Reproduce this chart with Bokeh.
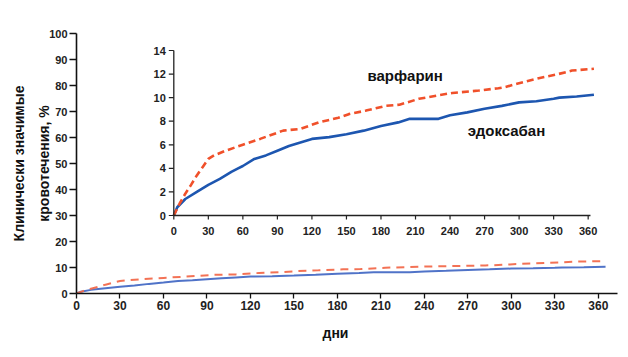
import math
from bokeh.plotting import figure
from bokeh.models import Range1d, FixedTicker, Title
from bokeh.embed import file_html
from bokeh.resources import INLINE
from bokeh.core.properties import value

# ---- data ----
days_warfarin = [0, 5, 10, 15, 20, 25, 30, 35, 45, 60, 75, 95, 110, 126, 143, 152,
                 167, 184, 196, 213, 230, 242, 265, 282, 288, 299, 317, 334, 346, 365]
warfarin = [0, 1.0, 1.85, 2.6, 3.4, 4.1, 4.8, 5.1, 5.5, 6.0, 6.5, 7.2, 7.35, 7.9, 8.3, 8.6,
            8.9, 9.3, 9.4, 9.9, 10.2, 10.4, 10.6, 10.8, 10.9, 11.2, 11.65, 12.0, 12.3, 12.45]
days_edoxaban = [0, 3, 10, 20, 30, 40, 50, 55, 60, 70, 80, 90, 100, 110, 120, 135, 150,
                 165, 180, 195, 205, 230, 240, 255, 270, 285, 300, 315, 330, 335, 350, 365]
edoxaban = [0, 0.7, 1.4, 2.0, 2.6, 3.1, 3.7, 3.96, 4.2, 4.8, 5.1, 5.5, 5.9, 6.2, 6.5, 6.65, 6.9,
            7.2, 7.6, 7.9, 8.2, 8.2, 8.5, 8.75, 9.05, 9.3, 9.6, 9.7, 9.9, 10.0, 10.1, 10.25]

main_x_ticks = [0, 30, 60, 90, 120, 150, 180, 210, 240, 270, 300, 330, 360]
main_y_ticks = [0, 10, 20, 30, 40, 50, 60, 70, 80, 90, 100]
inset_x_ticks = [0, 30, 60, 90, 120, 150, 180, 210, 240, 270, 300, 330, 360]
inset_y_ticks = [0, 2, 4, 6, 8, 10, 12, 14]

y_label = "Клинически значимые\nкровотечения, %"
x_label = "дни"
name_warfarin = "варфарин"
name_edoxaban = "эдоксабан"

FONT = "Liberation Sans"
TICK_COLOR = "#222222"

p = figure(width=628, height=357, x_range=Range1d(0, 376), y_range=Range1d(0, 100),
           output_backend="svg", toolbar_location=None,
           min_border_left=76, min_border_right=7, min_border_top=33, min_border_bottom=64)
p.outline_line_color = None
p.grid.visible = False
p.background_fill_color = "white"

# main axes
xa = p.xaxis[0]
xa.ticker = FixedTicker(ticks=main_x_ticks)
xa.bounds = (0, 373)
ya = p.yaxis[0]
ya.ticker = FixedTicker(ticks=main_y_ticks)
for ax in (xa, ya):
    ax.axis_line_color = "#111111"
    ax.axis_line_width = 1.6
    ax.major_tick_line_color = "#111111"
    ax.major_tick_line_width = 1.3
    ax.major_tick_in = 0
    ax.minor_tick_line_color = None
    ax.major_label_text_font = FONT
    ax.major_label_text_font_style = "bold"
    ax.major_label_text_color = TICK_COLOR
    ax.axis_label_text_font = FONT
    ax.axis_label_text_font_style = "bold"
    ax.axis_label_text_font_size = "14px"
    ax.axis_label_text_color = "#111111"
xa.major_label_text_font_size = "12px"
ya.major_label_text_font_size = "11px"
xa.major_tick_out = 5
xa.major_label_standoff = 2
ya.major_tick_out = 7
ya.major_label_standoff = 2
ya.axis_label = y_label
ya.axis_label_standoff = -6
ya.axis_label_text_line_height = 1.55

# x-axis label placed as a title below the axis (off-centre, as in the reference)
p.add_layout(Title(text=x_label, align="left", offset=246, standoff=20,
                   text_font=FONT, text_font_style="bold", text_font_size="14px",
                   text_color="#111111"), "below")

# main curves
p.line(days_edoxaban, edoxaban, line_color="#3d64c2", line_width=2, line_alpha=0.9)
p.line(days_warfarin, warfarin, line_color="#f26a4c", line_width=2, line_dash="8 6", line_alpha=0.95)

# inset (zoomed view, 0..14 %)
ins = p.subplot(x_source=Range1d(0, 360), y_source=Range1d(0, 14),
                x_target=Range1d(67.13, 353.0), y_target=Range1d(30.0, 93.46))

ins.line(days_edoxaban, edoxaban, line_color="#1d56b0", line_width=2.6)
ins.line(days_warfarin, warfarin, line_color="#f0502a", line_width=2.6, line_dash="7 4")

# inset axes
ins.segment(x0=[0, 0], y0=[0, 0], x1=[0, 362], y1=[14, 0], line_color="#222222", line_width=1.3)
ins.ray(x=[0] * len(inset_y_ticks), y=inset_y_ticks, length=5, length_units="screen",
        angle=math.pi, line_color="#222222", line_width=1.2)
ins.ray(x=inset_x_ticks, y=[0] * len(inset_x_ticks), length=4, length_units="screen",
        angle=-math.pi / 2, line_color="#222222", line_width=1.2)
ins.text(x=[0] * len(inset_y_ticks), y=inset_y_ticks, text=[str(v) for v in inset_y_ticks],
         x_offset=-8, text_align="right", text_baseline="middle",
         text_font=value(FONT), text_font_style="bold", text_font_size="11px",
         text_color=TICK_COLOR)
ins.text(x=inset_x_ticks, y=[0] * len(inset_x_ticks), text=[str(v) for v in inset_x_ticks],
         y_offset=15, text_align="center", text_baseline="middle",
         text_font=value(FONT), text_font_style="bold", text_font_size="11px",
         text_color=TICK_COLOR)

# series labels
ins.text(x=[201, 289], y=[11.88, 7.2], text=[name_warfarin, name_edoxaban],
         text_align="center", text_baseline="middle",
         text_font=value(FONT), text_font_style="bold", text_font_size="15px",
         text_color="#111111")

open("out.html", "w").write(file_html(p, INLINE))
